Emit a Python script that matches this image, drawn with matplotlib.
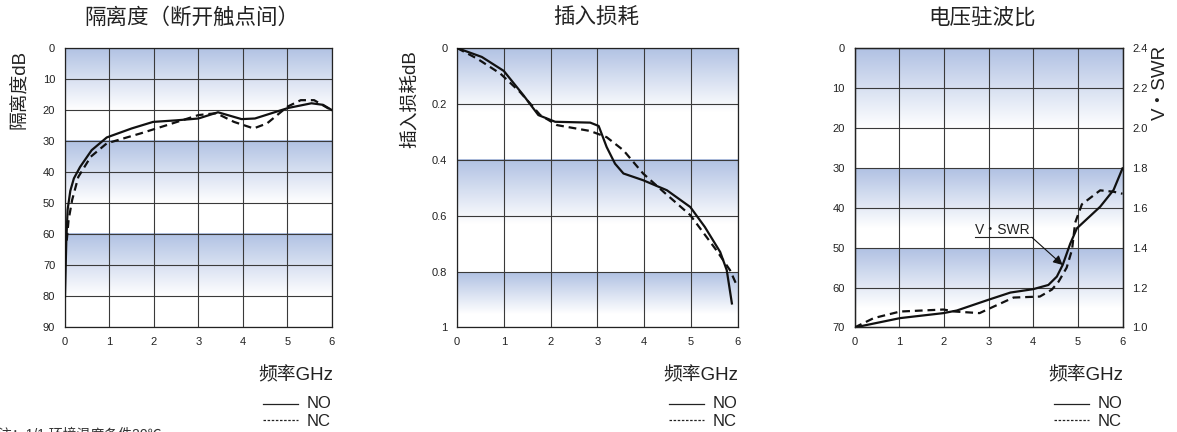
import numpy as np
import matplotlib.pyplot as plt
from matplotlib.lines import Line2D
from matplotlib.colors import LinearSegmentedColormap

plt.rcParams['font.family'] = ['Liberation Sans', 'Noto Sans CJK SC', 'DejaVu Sans']

# ---- data ----
freq_ticks = [0, 1, 2, 3, 4, 5, 6]

# isolation (dB) between open contacts
iso_no_f = [0.0, 0.03, 0.06, 0.12, 0.2, 0.34, 0.6, 0.94, 1.5, 1.98, 2.5, 3.0, 3.44,
            3.97, 4.27, 4.6, 5.02, 5.54, 5.8, 6.0]
iso_no_db = [80, 62, 52, 46, 42, 38.3, 32.9, 28.8, 25.9, 23.8, 23.3, 22.7, 20.7,
             22.9, 22.7, 21.2, 19.3, 17.8, 18.3, 20]
iso_nc_f = [0.04, 0.08, 0.16, 0.3, 0.58, 0.94, 1.7, 2.3, 3.0, 3.4, 3.8, 4.24, 4.54,
            5.0, 5.3, 5.6, 5.96]
iso_nc_db = [62, 55.5, 49, 41.5, 35, 30.7, 27.5, 24.8, 21.6, 21, 23.8, 25.9, 24.3,
             18.9, 16.8, 16.8, 19.8]

# insertion loss (dB)
il_no_f = [0.0, 0.53, 1.0, 1.42, 1.74, 2.1, 2.85, 3.03, 3.2, 3.38, 3.56, 3.98, 4.49,
           4.99, 5.3, 5.63, 5.77, 5.88]
il_no_db = [0.0, 0.032, 0.082, 0.169, 0.24, 0.264, 0.267, 0.279, 0.354, 0.414, 0.449,
            0.473, 0.509, 0.569, 0.64, 0.73, 0.795, 0.914]
il_nc_f = [0.0, 0.43, 0.93, 1.35, 1.78, 2.14, 2.85, 3.2, 3.56, 3.98, 4.42, 4.99, 5.55,
           5.84, 6.0]
il_nc_db = [0.0, 0.038, 0.092, 0.158, 0.24, 0.276, 0.297, 0.319, 0.366, 0.449, 0.515,
            0.598, 0.724, 0.795, 0.855]

# V.SWR
vs_no_f = [0.0, 1.02, 1.99, 2.29, 3.0, 3.49, 4.0, 4.34, 4.53, 4.66, 4.83, 4.98, 5.5,
           5.8, 6.0]
vs_no = [1.0, 1.047, 1.072, 1.085, 1.139, 1.175, 1.192, 1.213, 1.255, 1.313, 1.42,
         1.497, 1.605, 1.689, 1.797]
vs_nc_f = [0.0, 0.43, 1.02, 1.99, 2.25, 2.8, 3.04, 3.56, 4.15, 4.42, 4.57, 4.75, 4.87,
           4.94, 5.09, 5.5, 5.8, 6.0]
vs_nc = [1.0, 1.047, 1.08, 1.09, 1.08, 1.072, 1.097, 1.15, 1.155, 1.19, 1.23, 1.3,
         1.39, 1.525, 1.617, 1.687, 1.68, 1.67]

iso_ticks = [0, 10, 20, 30, 40, 50, 60, 70, 80, 90]
il_ticks = [0, 0.2, 0.4, 0.6, 0.8, 1.0]
il_labels = ['0', '0.2', '0.4', '0.6', '0.8', '1']
vs_left_ticks = [0, 10, 20, 30, 40, 50, 60, 70]
vs_right_ticks = [1.0, 1.2, 1.4, 1.6, 1.8, 2.0, 2.2, 2.4]

# ---- styling ----
band_cmap = LinearSegmentedColormap.from_list('band', ['#b0c1e3', '#ffffff'])
grid_c = '#3a3a3a'
txt_c = '#222222'
dash_nc = (0, (3.5, 2.2))


def shade(ax, bands):
    grad = np.linspace(0, 1, 256).reshape(-1, 1)
    for y0, length in bands:
        ax.imshow(grad, cmap=band_cmap, aspect='auto', origin='upper',
                  extent=(0, 6, y0 + length, y0), zorder=0, interpolation='bilinear')


def base(ax, ylim, yticks, ylabels=None):
    ax.set_xlim(0, 6)
    ax.set_ylim(ylim)
    ax.set_xticks(freq_ticks)
    ax.set_yticks(yticks)
    if ylabels is not None:
        ax.set_yticklabels(ylabels)
    ax.grid(True, color=grid_c, lw=0.8)
    ax.tick_params(length=0, labelsize=8, pad=7, colors=txt_c)
    for s in ax.spines.values():
        s.set_color(txt_c)
        s.set_linewidth(0.9)


def legend_block(fig, ax):
    pos = ax.get_position()
    W, H = fig.get_size_inches() * fig.dpi
    r = pos.x1 * W
    b = pos.y0 * H
    fx = lambda px: px / W
    fy = lambda px: px / H
    fig.text(fx(r + 1), fy(b - 48), '频率GHz', ha='right', va='center', fontsize=13.5,
             color=txt_c)
    fig.add_artist(Line2D([fx(r - 69), fx(r - 34)], [fy(b - 77), fy(b - 77)],
                          color=txt_c, lw=0.9))
    fig.add_artist(Line2D([fx(r - 69), fx(r - 34)], [fy(b - 93), fy(b - 93)],
                          color=txt_c, lw=0.9, linestyle=(0, (2, 1.3))))
    fig.text(fx(r - 25), fy(b - 76), 'NO', ha='left', va='center', fontsize=12,
             color=txt_c)
    fig.text(fx(r - 25), fy(b - 94), 'NC', ha='left', va='center', fontsize=12,
             color=txt_c)


fig = plt.figure(figsize=(11.77, 4.32), dpi=100)
bottom, height = 0.2419, 0.647
ax1 = fig.add_axes([0.0552, bottom, 0.2268, height])
ax2 = fig.add_axes([0.3883, bottom, 0.2383, height])
ax3 = fig.add_axes([0.7260, bottom, 0.2277, height])

# panel 1
shade(ax1, [(0, 20), (30, 20), (60, 20)])
base(ax1, (90, 0), iso_ticks)
ax1.plot(iso_no_f, iso_no_db, color='#111111', lw=1.6, zorder=3)
ax1.plot(iso_nc_f, iso_nc_db, color='#111111', lw=1.6, linestyle=dash_nc, zorder=3)
ax1.text(0.475, 1.107, '隔离度（断开触点间）', transform=ax1.transAxes, ha='center',
         va='center', fontsize=15.5, color=txt_c)
ax1.text(-0.169, 0.993, '隔离度dB', transform=ax1.transAxes, rotation=90, ha='center',
         va='top', fontsize=13.5, color=txt_c)

# panel 2
shade(ax2, [(0, 0.23), (0.4, 0.23), (0.8, 0.15)])
base(ax2, (1.0, 0), il_ticks, il_labels)
ax2.plot(il_no_f, il_no_db, color='#111111', lw=1.6, zorder=3)
ax2.plot(il_nc_f, il_nc_db, color='#111111', lw=1.6, linestyle=dash_nc, zorder=3)
ax2.text(0.495, 1.107, '插入损耗', transform=ax2.transAxes, ha='center', va='center',
         fontsize=15.5, color=txt_c)
ax2.text(-0.168, 0.993, '插入损耗dB', transform=ax2.transAxes, rotation=90,
         ha='center', va='top', fontsize=13.5, color=txt_c)

# panel 3
shade(ax3, [(0, 20), (30, 15), (50, 15)])
base(ax3, (70, 0), vs_left_ticks)
ax3r = ax3.twinx()
ax3r.set_ylim(1.0, 2.4)
ax3r.set_yticks(vs_right_ticks)
ax3r.set_yticklabels(['%.1f' % v for v in vs_right_ticks])
ax3r.tick_params(length=0, labelsize=8, pad=7, colors=txt_c)
for s in ax3r.spines.values():
    s.set_color(txt_c)
    s.set_linewidth(0.9)
ax3r.plot(vs_no_f, vs_no, color='#111111', lw=1.6, zorder=3)
ax3r.plot(vs_nc_f, vs_nc, color='#111111', lw=1.6, linestyle=dash_nc, zorder=3)
ax3r.text(3.32, 1.489, 'V・SWR', ha='center', va='center', fontsize=10, color=txt_c)
ax3r.plot([2.70, 3.97], [1.452, 1.452], color=txt_c, lw=0.8)
ax3r.annotate('', xy=(4.66, 1.313), xytext=(3.97, 1.452),
              arrowprops=dict(arrowstyle='-|>', color='#111111', lw=0.8,
                              mutation_scale=14, shrinkA=0, shrinkB=0))
ax3.text(0.477, 1.107, '电压驻波比', transform=ax3.transAxes, ha='center',
         va='center', fontsize=15.5, color=txt_c)
ax3.text(1.14, 1.01, 'V・SWR', transform=ax3.transAxes, rotation=90, ha='center',
         va='top', fontsize=13.5, color=txt_c)

for ax in (ax1, ax2, ax3):
    legend_block(fig, ax)

# footnote, cut off by the lower edge as in the source image
fig.text(-0.002, 0.009, '注：1/1 环境温度条件20℃', ha='left', va='top', fontsize=10,
         color='#333333')

fig.savefig('out.png', dpi=100)
